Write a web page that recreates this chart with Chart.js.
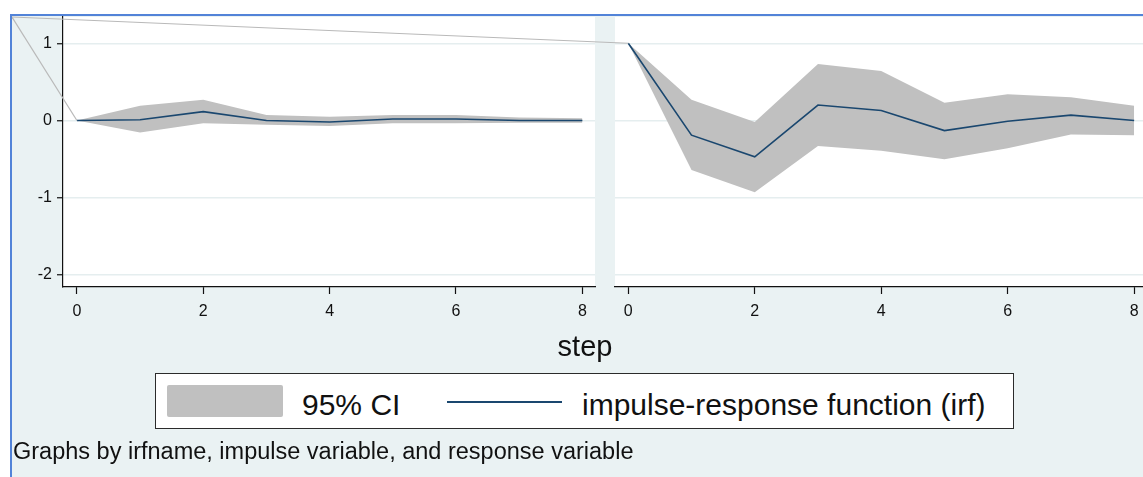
<!DOCTYPE html>
<html lang="en">
<head>
<meta charset="UTF-8">
<title>IRF graph</title>
<script src="https://cdn.jsdelivr.net/npm/chart.js"></script>
<style>
  html, body { margin: 0; padding: 0; background: #fff; overflow: hidden; width: 1143px; height: 477px; font-family: "Liberation Sans", Arial, sans-serif; color: #111; }
  #graph { position: absolute; left: 10px; top: 14px; width: 1131px; height: 461px; background: #eaf2f3; border-top: 2px solid #5283d8; border-left: 2px solid #5283d8; }
  #graph canvas { position: absolute; left: 0; top: 0; }
  .txt { position: absolute; white-space: nowrap; line-height: 1; }
  #xtitle { left: 485px; width: 200px; top: 332px; text-align: center; font-size: 29px; }
  #legend { position: absolute; left: 155px; top: 373px; width: 857px; height: 54px; background: #fff; border: 1.5px solid #2b2b2b; }
  #swCI { position: absolute; left: 11px; top: 11px; width: 116px; height: 32px; background: #c0c0c0; border-radius: 2px; }
  #swLine { position: absolute; left: 291px; top: 27px; width: 115px; height: 2px; background: #1a476f; }
  #legend .txt { font-size: 30px; top: 16px; }
  #note { left: 13px; top: 440px; font-size: 23.5px; }
</style>
</head>
<body>
<div id="graph">
  <canvas id="panelA" width="1131" height="461"></canvas>
  <canvas id="panelB" width="1131" height="461"></canvas>
</div>
<div id="xtitle" class="txt">step</div>
<div id="legend">
  <div id="swCI"></div>
  <div class="txt" style="left:146px">95% CI</div>
  <div id="swLine"></div>
  <div class="txt" style="left:426px">impulse-response function (irf)</div>
</div>
<div id="note" class="txt">Graphs by irfname, impulse variable, and response variable</div>

<script>
// datos
const steps = [0, 1, 2, 3, 4, 5, 6, 7, 8];
const xTicks = [0, 2, 4, 6, 8];
const yTicks = [-2, -1, 0, 1];

const irfA   = [0, 0.01, 0.115, 0.00, -0.02, 0.02, 0.02, 0.00, 0.00];
const upperA = [0, 0.19, 0.27, 0.07, 0.05, 0.07, 0.07, 0.04, 0.03];
const lowerA = [0, -0.155, -0.035, -0.055, -0.07, -0.035, -0.035, -0.03, -0.03];

const irfB   = [1, -0.19, -0.47, 0.20, 0.13, -0.13, -0.01, 0.07, 0.00];
const upperB = [1, 0.27, -0.02, 0.73, 0.64, 0.23, 0.34, 0.30, 0.19];
const lowerB = [1, -0.64, -0.93, -0.33, -0.39, -0.50, -0.36, -0.18, -0.19];

Chart.defaults.font.family = '"Liberation Sans", Arial, sans-serif';
Chart.defaults.color = '#111';

const pts = arr => steps.map((s, i) => ({x: s, y: arr[i]}));

const panelBg = {
  id: 'panelBg',
  beforeDraw(chart) {
    const a = chart.chartArea, ctx = chart.ctx;
    ctx.save();
    ctx.fillStyle = '#fff';
    ctx.fillRect(a.left, a.top, a.right - a.left, a.bottom - a.top);
    ctx.restore();
  }
};

// linea gris desde la esquina del grafico hasta el primer punto
const cornerLine = {
  id: 'cornerLine',
  afterDatasetsDraw(chart, args, opts) {
    const ctx = chart.ctx;
    const x = chart.scales.x.getPixelForValue(steps[0]);
    const y = chart.scales.y.getPixelForValue(opts.start);
    ctx.save();
    ctx.strokeStyle = '#b9b9b9';
    ctx.lineWidth = 1.2;
    ctx.beginPath();
    ctx.moveTo(0, 1);
    ctx.lineTo(x, y);
    ctx.stroke();
    ctx.restore();
  }
};

function makePanel(id, irf, upper, lower, opt) {
  return new Chart(document.getElementById(id), {
    type: 'line',
    data: {
      datasets: [
        { label: 'irf', data: pts(irf), borderColor: '#1a476f', borderWidth: 1.6, pointRadius: 0, fill: false, tension: 0 },
        { label: 'ci upper', data: pts(upper), borderColor: 'rgba(0,0,0,0)', borderWidth: 0, pointRadius: 0, backgroundColor: '#c0c0c0', fill: '+1', tension: 0 },
        { label: 'ci lower', data: pts(lower), borderColor: 'rgba(0,0,0,0)', borderWidth: 0, pointRadius: 0, fill: false, tension: 0 }
      ]
    },
    options: {
      responsive: false,
      animation: false,
      events: [],
      layout: { padding: { left: opt.padLeft, right: opt.padRight, top: 1, bottom: 160 } },
      plugins: {
        legend: { display: false },
        tooltip: { enabled: false },
        cornerLine: { start: upper[0] }
      },
      scales: {
        x: {
          type: 'linear', min: opt.xmin, max: opt.xmax,
          afterBuildTicks: s => { s.ticks = xTicks.map(v => ({value: v})); },
          afterFit: s => { s.height = 30; s.paddingLeft = 0; s.paddingRight = 0; },
          ticks: { font: { size: 16 }, padding: 8, maxRotation: 0, color: '#111' },
          grid: { drawOnChartArea: false, tickLength: 7, tickColor: '#111', tickWidth: 1.2 },
          border: { display: true, color: '#111', width: 1.2 }
        },
        y: {
          type: 'linear', min: -2.155, max: 1.34,
          afterBuildTicks: s => { s.ticks = yTicks.map(v => ({value: v})); },
          afterFit: s => { s.width = opt.yWidth; s.paddingTop = 0; s.paddingBottom = 0; },
          ticks: { display: opt.showY, font: { size: 16 }, padding: 5, color: '#111' },
          grid: { color: '#e5eeef', lineWidth: 1.5, drawTicks: opt.showY, tickLength: 6, tickColor: '#111', tickWidth: 1.2 },
          border: { display: opt.showY, color: '#111', width: 1.2 }
        }
      }
    },
    plugins: [panelBg, cornerLine]
  });
}

makePanel('panelA', irfA, upperA, lowerA, { padLeft: 0, padRight: 548, yWidth: 51, showY: true, xmin: -0.22, xmax: 8.2 });
makePanel('panelB', irfB, upperB, lowerB, { padLeft: 603, padRight: 0, yWidth: 0, showY: false, xmin: -0.21, xmax: 8.14 });
</script>
</body>
</html>
